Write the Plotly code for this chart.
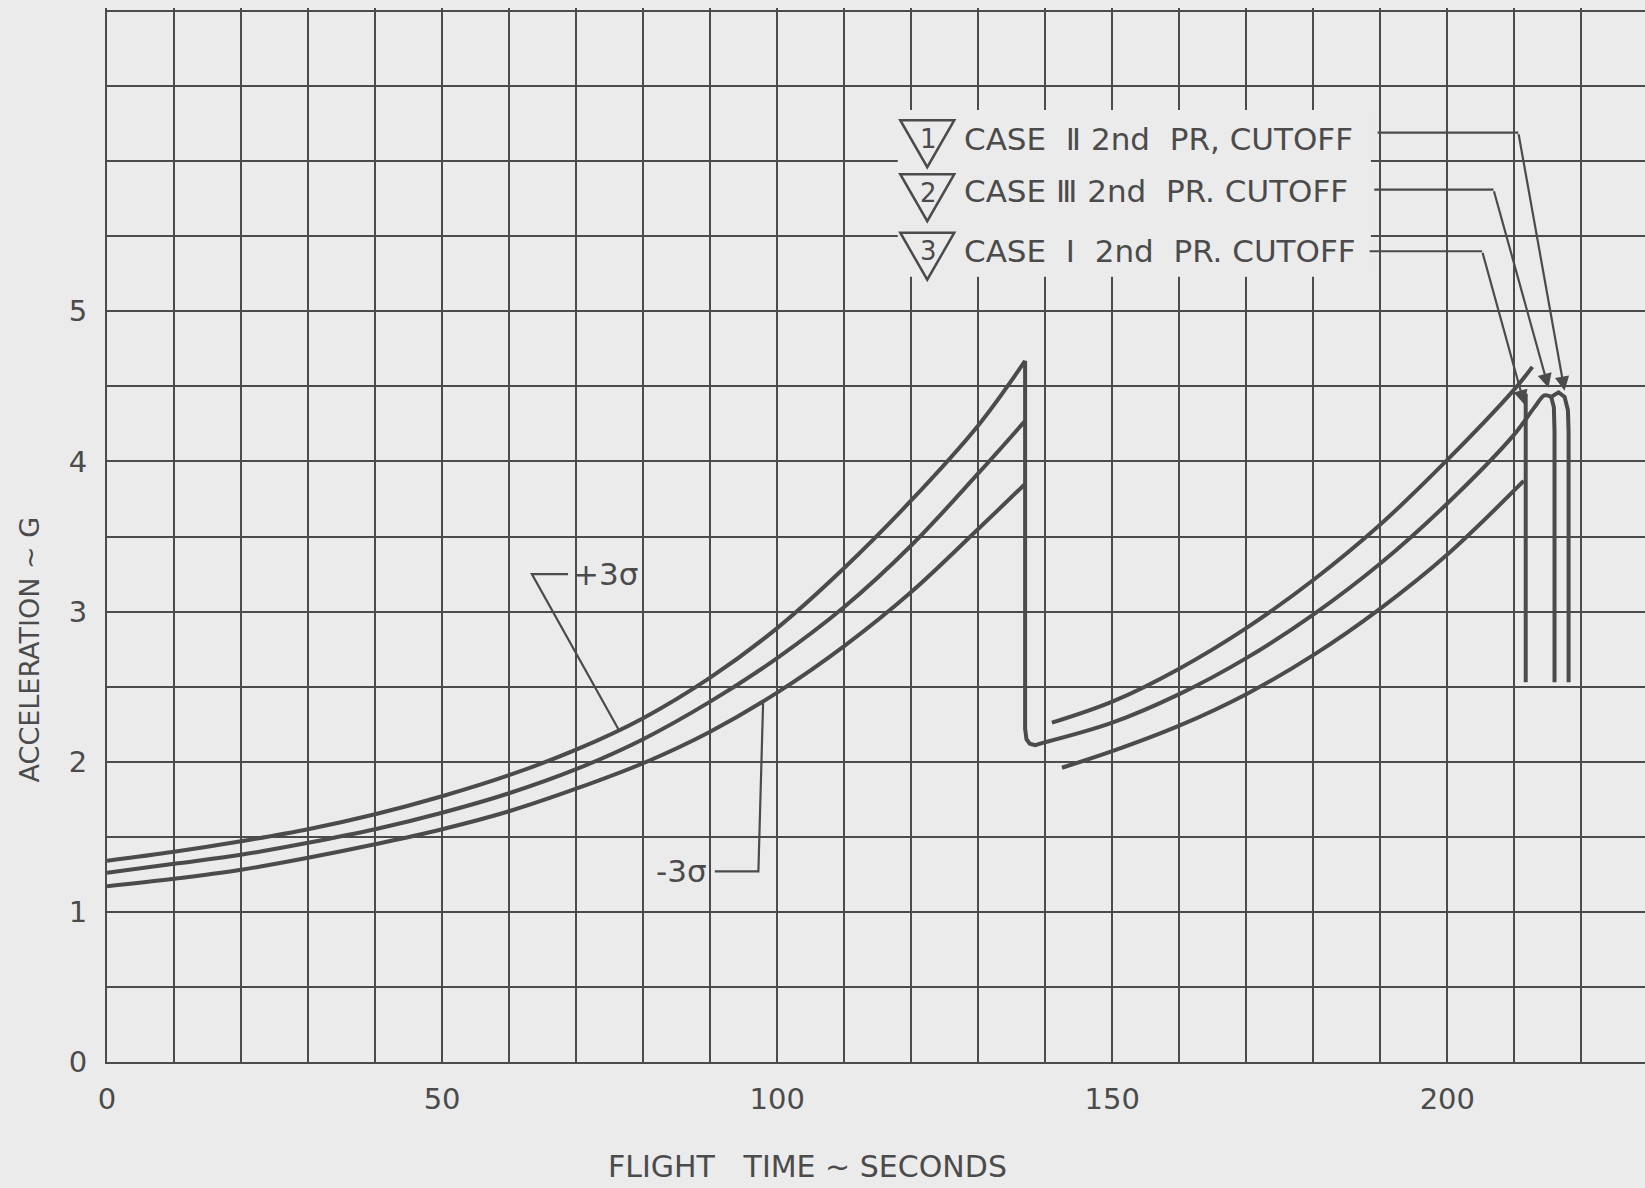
import plotly.graph_objects as go

# ---- data -----------------------------------------------------------------
# first stage burn, flight time (s) vs longitudinal acceleration (g)
t_stage1 = [0, 10, 20, 30, 40, 50, 60, 70, 80, 90, 100, 110, 120, 130, 137]
acc1_plus3sigma = [1.34, 1.40, 1.47, 1.55, 1.65, 1.77, 1.91, 2.08, 2.29, 2.56, 2.89, 3.29, 3.74, 4.24, 4.67]
acc1_nominal = [1.26, 1.32, 1.38, 1.46, 1.55, 1.66, 1.79, 1.95, 2.15, 2.40, 2.69, 3.03, 3.44, 3.92, 4.27]
acc1_minus3sigma = [1.17, 1.22, 1.28, 1.36, 1.45, 1.55, 1.67, 1.82, 1.99, 2.20, 2.46, 2.77, 3.13, 3.55, 3.85]

# staging drop from first stage cutoff onto the second stage trace
t_staging = [137, 137, 137.2, 137.7, 138.5, 140]
acc_staging = [4.67, 2.22, 2.15, 2.12, 2.11, 2.13]

# second stage burn
t2_plus3sigma = [141, 150, 160, 170, 180, 190, 200, 210, 212.7]
acc2_plus3sigma = [2.26, 2.40, 2.62, 2.89, 3.21, 3.58, 4.01, 4.48, 4.63]
t2_nominal = [140, 150, 160, 170, 180, 190, 200, 210, 213, 214.5, 215.5]
acc2_nominal = [2.13, 2.26, 2.45, 2.69, 2.98, 3.32, 3.72, 4.18, 4.36, 4.44, 4.43]
t2_minus3sigma = [142.5, 150, 160, 170, 180, 190, 200, 211.4]
acc2_minus3sigma = [1.96, 2.07, 2.24, 2.45, 2.71, 3.02, 3.38, 3.87]

# second stage cutoff tail-offs: case I, case III, case II
t_cut_case1 = [211.7, 211.7]
acc_cut_case1 = [4.45, 2.53]
t_cut_case3 = [215.5, 215.9, 216.0, 216.0]
acc_cut_case3 = [4.43, 4.36, 4.20, 2.53]
t_cut_case2 = [215.5, 216.6, 217.5, 218.0, 218.1, 218.1]
acc_cut_case2 = [4.43, 4.46, 4.43, 4.34, 4.20, 2.53]

# axis ticks
x_tickvals = list(range(0, 230, 10))
x_ticktext = [str(v) if v % 50 == 0 else "" for v in x_tickvals]
y_tickvals = [i * 0.5 for i in range(15)]
y_ticktext = [str(int(v)) if (v == int(v) and v <= 5) else "" for v in y_tickvals]

cutoff_labels = ["CASE  Ⅱ 2nd  PR, CUTOFF", "CASE Ⅲ 2nd  PR. CUTOFF", "CASE  Ⅰ  2nd  PR. CUTOFF"]
cutoff_numbers = ["1", "2", "3"]

# ---- style ------------------------------------------------------------------
BG = "#ebebeb"
INK = "#4b4b4b"
FONT = "DejaVu Sans"

fig = go.Figure()


def curve(x, y, smooth=True, width=4):
    fig.add_trace(go.Scatter(
        x=x, y=y, mode="lines",
        line=dict(color=INK, width=width,
                  shape="spline" if smooth else "linear",
                  smoothing=1.0 if smooth else None),
        hoverinfo="skip", showlegend=False))


curve(t_stage1, acc1_plus3sigma)
curve(t_stage1, acc1_nominal)
curve(t_stage1, acc1_minus3sigma)
curve(t_staging, acc_staging, smooth=False)
curve(t2_plus3sigma, acc2_plus3sigma)
curve(t2_nominal, acc2_nominal)
curve(t2_minus3sigma, acc2_minus3sigma)
curve(t_cut_case1, acc_cut_case1, smooth=False)
curve(t_cut_case3, acc_cut_case3, smooth=False)
curve(t_cut_case2, acc_cut_case2, smooth=False)

# sigma call-outs
curve([68.8, 63.4, 76.4], [3.25, 3.25, 2.21], smooth=False, width=2.2)
curve([90.7, 97.2, 97.9], [1.27, 1.27, 2.39], smooth=False, width=2.2)

annotations = [
    dict(x=69.3, y=3.25, xref="x", yref="y", text="+3σ", showarrow=False,
         xanchor="left", yanchor="middle", font=dict(size=31, color=INK, family=FONT)),
    dict(x=89.9, y=1.27, xref="x", yref="y", text="-3σ", showarrow=False,
         xanchor="right", yanchor="middle", font=dict(size=31, color=INK, family=FONT)),
]

# cutoff legend: numbered triangles, labels, leaders with arrows
label_y = [6.15, 5.80, 5.40]
leader_y = [6.19, 5.81, 5.40]
leader_start = [189.6, 189.1, 188.4]
leader_corner = [210.6, 206.9, 205.2]
arrow_tip = [(217.5, 4.47), (215.1, 4.49), (211.5, 4.38)]
marker_y = [6.12, 5.76, 5.37]
number_y = [6.15, 5.79, 5.40]
marker_t = 122.4

shapes = [
    # blank panel behind the cutoff legend
    dict(type="rect", xref="x", yref="y", x0=118.0, x1=188.6, y0=5.23, y1=6.34,
         fillcolor=BG, line=dict(width=0), layer="between"),
]

for lab, ly, ldy, x0, x1, tip, my, ny, num in zip(
        cutoff_labels, label_y, leader_y, leader_start, leader_corner,
        arrow_tip, marker_y, number_y, cutoff_numbers):
    annotations.append(dict(x=127.6, y=ly, xref="x", yref="y", text=lab, showarrow=False,
                            xanchor="left", yanchor="middle",
                            font=dict(size=31, color=INK, family=FONT)))
    annotations.append(dict(x=marker_t + 0.2, y=ny, xref="x", yref="y", text=num,
                            showarrow=False, xanchor="center", yanchor="middle",
                            font=dict(size=26, color=INK, family=FONT)))
    shapes.append(dict(type="path", xref="x", yref="y",
                       xsizemode="pixel", ysizemode="pixel",
                       xanchor=marker_t, yanchor=my,
                       path="M-27,23 L27,23 L0,-24 Z",
                       line=dict(color=INK, width=2.5), fillcolor="rgba(0,0,0,0)",
                       layer="above"))
    curve([x0, x1], [ldy, ldy], smooth=False, width=2.2)
    annotations.append(dict(x=tip[0], y=tip[1], ax=x1, ay=ldy, xref="x", yref="y",
                            axref="x", ayref="y", text="", showarrow=True,
                            arrowhead=2, arrowsize=1.3, arrowwidth=2.2, arrowcolor=INK,
                            standoff=0))

# axis titles
annotations.append(dict(x=104.6, y=-0.099, xref="x", yref="paper",
                        text="FLIGHT   TIME ~ SECONDS", showarrow=False,
                        xanchor="center", yanchor="middle",
                        font=dict(size=30, color=INK, family=FONT)))
annotations.append(dict(x=-0.0505, y=2.75, xref="paper", yref="y",
                        text="ACCELERATION ~ G", showarrow=False, textangle=-90,
                        xanchor="center", yanchor="middle",
                        font=dict(size=27, color=INK, family=FONT)))

axis_common = dict(
    showgrid=True, gridcolor=INK, gridwidth=2,
    zeroline=True, zerolinecolor=INK, zerolinewidth=2,
    showline=True, linecolor=INK, linewidth=2,
    ticks="outside", tickcolor="rgba(0,0,0,0)",
    tickfont=dict(size=29, color=INK, family=FONT),
    tickmode="array",
)

fig.update_layout(
    width=1645, height=1188,
    margin=dict(l=107, r=0, t=8, b=126),
    paper_bgcolor=BG, plot_bgcolor=BG,
    xaxis=dict(range=[0, 229.5], tickvals=x_tickvals, ticktext=x_ticktext,
               ticklen=10, **axis_common),
    yaxis=dict(range=[0, 7.02], tickvals=y_tickvals, ticktext=y_ticktext,
               ticklen=12, **axis_common),
    annotations=annotations,
    shapes=shapes,
    showlegend=False,
)

fig.write_html("out.html")
